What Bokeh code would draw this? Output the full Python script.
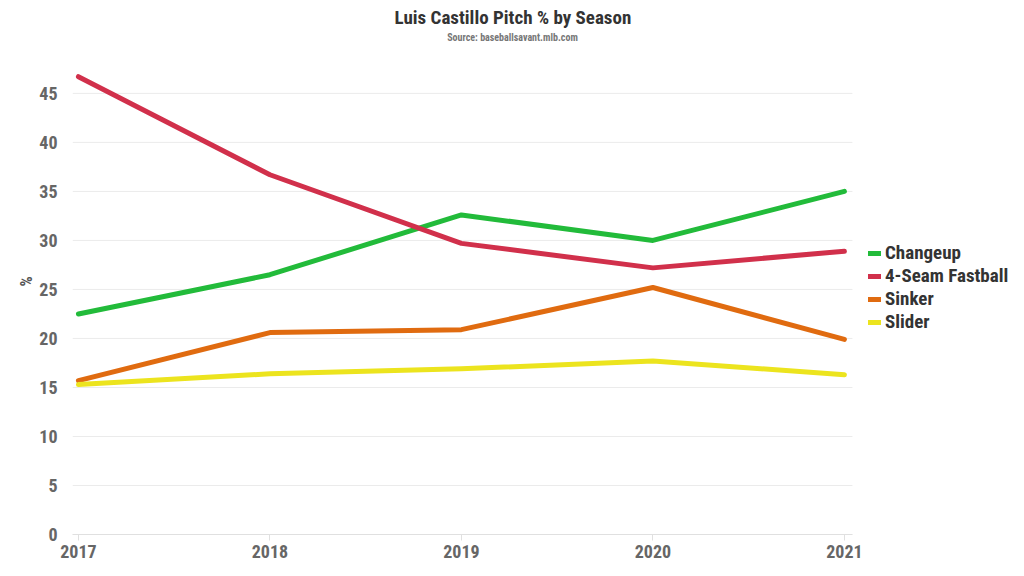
from bokeh.plotting import figure
from bokeh.models import Title, Legend, LegendItem, FixedTicker, Range1d, Label
from bokeh.embed import file_html
from bokeh.resources import INLINE

years = [2017, 2018, 2019, 2020, 2021]
changeup = [22.5, 26.5, 32.6, 30.0, 35.0]
fastball = [46.7, 36.7, 29.7, 27.2, 28.9]
sinker = [15.7, 20.6, 20.9, 25.2, 19.9]
slider = [15.3, 16.4, 16.9, 17.7, 16.3]
series_names = ["Changeup", "4-Seam Fastball", "Sinker", "Slider"]
series_colors = ["#22bb3a", "#d1304b", "#e06b10", "#ece41e"]
y_ticks = [0, 5, 10, 15, 20, 25, 30, 35, 40, 45]
title_text = "Luis Castillo Pitch % by Season"
subtitle_text = "Source: baseballsavant.mlb.com"

FONT = "Roboto Condensed, Roboto, sans-serif"

X0, X1 = 2016.969, 2021.042   # extent of the drawn chart area
XR = 2021.857                 # frame extends right to hold the legend
YTOP = 51.62                  # frame extends up to hold the subtitle

p = figure(width=1008, height=560, output_backend="svg", toolbar_location=None,
           x_range=Range1d(X0, XR), y_range=Range1d(0, YTOP),
           min_border_left=72, min_border_right=0, min_border_top=28, min_border_bottom=25)
p.outline_line_color = None
p.background_fill_color = "white"
p.border_fill_color = "white"

# horizontal grid lines limited to the chart area
p.segment(x0=[X0] * len(y_ticks), x1=[X1] * len(y_ticks), y0=y_ticks, y1=y_ticks,
          line_color="#ebebeb", line_width=1)

lines = []
for vals, name, col in zip([changeup, fastball, sinker, slider], series_names, series_colors):
    r = p.line(years, vals, line_color=col, line_width=5, line_join="round", line_cap="round")
    lines.append((name, r))

p.xaxis.ticker = FixedTicker(ticks=years)
p.yaxis.ticker = FixedTicker(ticks=y_ticks)
p.xaxis.bounds = (X0, X1)
p.xgrid.grid_line_color = None
p.ygrid.grid_line_color = None

p.xaxis.axis_line_color = "#e0e0e0"
p.xaxis.major_tick_line_color = "#e0e0e0"
p.xaxis.major_tick_out = 6
p.xaxis.major_tick_in = 0
p.xaxis.minor_tick_line_color = None
p.xaxis.minor_tick_out = 0
p.xaxis.major_label_text_font = FONT
p.xaxis.major_label_text_font_style = "bold"
p.xaxis.major_label_text_font_size = "18px"
p.xaxis.major_label_text_color = "#666666"
p.xaxis.major_label_standoff = 4

p.yaxis.axis_line_color = None
p.yaxis.major_tick_line_color = None
p.yaxis.minor_tick_line_color = None
p.yaxis.major_tick_out = 0
p.yaxis.minor_tick_out = 0
p.yaxis.major_label_text_font = FONT
p.yaxis.major_label_text_font_style = "bold"
p.yaxis.major_label_text_font_size = "18px"
p.yaxis.major_label_text_color = "#666666"
p.yaxis.major_label_standoff = 15
p.yaxis.axis_label = "%"
p.yaxis.axis_label_text_font = FONT
p.yaxis.axis_label_text_font_style = "bold"
p.yaxis.axis_label_text_font_size = "16px"
p.yaxis.axis_label_text_color = "#555555"
p.yaxis.axis_label_standoff = 0

legend = Legend(items=[LegendItem(label=n, renderers=[r]) for n, r in lines],
                location=(796, 201), border_line_color=None, background_fill_alpha=0,
                label_text_font=FONT, label_text_font_style="bold", label_text_font_size="19px",
                label_text_color="#333333", glyph_width=13, glyph_height=20, label_height=20,
                spacing=0, padding=0, margin=0, label_standoff=4)
p.add_layout(legend, "center")

p.add_layout(Label(x=440, y=497, x_units="screen", y_units="screen", text=subtitle_text,
                   text_align="center", text_baseline="middle", text_font=FONT,
                   text_font_style="bold", text_font_size="10px", text_color="#777777"))
p.add_layout(Title(text=title_text, align="left", text_font=FONT, offset=322,
                   text_font_style="bold", text_font_size="19px", text_color="#333333",
                   standoff=0), "above")

open("out.html", "w").write(file_html(p, INLINE))
